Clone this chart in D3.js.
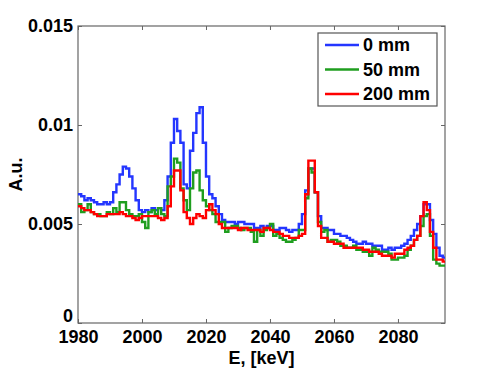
<!DOCTYPE html>
<html lang="en">
<head>
<meta charset="UTF-8">
<title>Spectra</title>
<script src="https://d3js.org/d3.v7.min.js"></script>
<style>
  body { margin: 0; background: #fff; }
  svg text { font-family: "Liberation Sans", Arial, sans-serif; font-weight: bold; fill: #000; }
  .frame { fill: none; stroke: #666; stroke-width: 1.2px; }
</style>
</head>
<body>
<svg id="chart" width="491" height="369"></svg>
<script>
// bins of 1 keV, starting at 1980
let startE = 1980;
let binWidth = 1;
let xTicks = [1980, 2000, 2020, 2040, 2060, 2080];
let yTicks = [0, 0.005, 0.01, 0.015];
let yTickLabels = ["0", "0.005", "0.01", "0.015"];
let seriesNames = ["0 mm", "50 mm", "200 mm"];
let seriesColors = ["#2436ff", "#1f9e1f", "#ff0000"];

let blue = [
  0.0065, 0.0064, 0.0062, 0.0063, 0.0062, 0.0061, 0.0060, 0.0060, 0.0061, 0.0060,
  0.0061, 0.0066, 0.0070, 0.0075, 0.0079, 0.0078, 0.0074, 0.0068, 0.0062, 0.0057,
  0.0056, 0.0057, 0.0056, 0.0058, 0.0057, 0.0058, 0.0057, 0.0062, 0.0074, 0.0091,
  0.0103, 0.0097, 0.0091, 0.0070, 0.0068, 0.0087, 0.0096, 0.0106, 0.0109, 0.0091,
  0.0074, 0.0065, 0.0063, 0.0059, 0.0055, 0.0052, 0.0051, 0.0051, 0.0051, 0.0050,
  0.0051, 0.0051, 0.0050, 0.0050, 0.0050, 0.0048, 0.0048, 0.0049, 0.0048, 0.0049,
  0.0049, 0.0047, 0.0047, 0.0048, 0.0048, 0.0047, 0.0046, 0.0047, 0.0047, 0.0050,
  0.0055, 0.0067, 0.0078, 0.0078, 0.0066, 0.0054, 0.0048, 0.0048, 0.0047, 0.0047,
  0.0045, 0.0045, 0.0044, 0.0044, 0.0043, 0.0042, 0.0041, 0.0040, 0.0040, 0.0041,
  0.0040, 0.0040, 0.0039, 0.0039, 0.0039, 0.0037, 0.0037, 0.0038, 0.0037, 0.0038,
  0.0038, 0.0039, 0.0040, 0.0042, 0.0044, 0.0047, 0.0050, 0.0054, 0.0060, 0.0060,
  0.0052, 0.0045, 0.0038, 0.0034, 0.0033
];
let green = [
  0.0060, 0.0056, 0.0057, 0.0060, 0.0056, 0.0055, 0.0055, 0.0054, 0.0054, 0.0056,
  0.0055, 0.0058, 0.0056, 0.0061, 0.0061, 0.0057, 0.0055, 0.0054, 0.0054, 0.0055,
  0.0051, 0.0048, 0.0056, 0.0057, 0.0055, 0.0058, 0.0055, 0.0054, 0.0069, 0.0074,
  0.0083, 0.0081, 0.0068, 0.0062, 0.0057, 0.0068, 0.0076, 0.0077, 0.0067, 0.0062,
  0.0059, 0.0057, 0.0055, 0.0051, 0.0051, 0.0051, 0.0046, 0.0048, 0.0049, 0.0049,
  0.0048, 0.0047, 0.0048, 0.0048, 0.0046, 0.0041, 0.0047, 0.0044, 0.0047, 0.0048,
  0.0050, 0.0044, 0.0045, 0.0043, 0.0042, 0.0041, 0.0041, 0.0042, 0.0043, 0.0047,
  0.0047, 0.0063, 0.0078, 0.0076, 0.0066, 0.0051, 0.0046, 0.0047, 0.0041, 0.0042,
  0.0042, 0.0041, 0.0039, 0.0039, 0.0038, 0.0038, 0.0039, 0.0037, 0.0037, 0.0036,
  0.0036, 0.0034, 0.0038, 0.0037, 0.0036, 0.0036, 0.0036, 0.0035, 0.0032, 0.0032,
  0.0033, 0.0033, 0.0034, 0.0037, 0.0039, 0.0042, 0.0044, 0.0049, 0.0054, 0.0055,
  0.0044, 0.0032, 0.0030, 0.0029, 0.0029
];
let red = [
  0.0059, 0.0058, 0.0057, 0.0057, 0.0056, 0.0055, 0.0054, 0.0054, 0.0054, 0.0055,
  0.0055, 0.0055, 0.0055, 0.0056, 0.0055, 0.0054, 0.0054, 0.0053, 0.0052, 0.0053,
  0.0054, 0.0054, 0.0054, 0.0054, 0.0054, 0.0053, 0.0052, 0.0053, 0.0059, 0.0069,
  0.0077, 0.0077, 0.0067, 0.0056, 0.0053, 0.0050, 0.0053, 0.0055, 0.0054, 0.0053,
  0.0057, 0.0060, 0.0057, 0.0055, 0.0050, 0.0048, 0.0048, 0.0048, 0.0048, 0.0048,
  0.0047, 0.0048, 0.0048, 0.0047, 0.0047, 0.0047, 0.0047, 0.0046, 0.0048, 0.0048,
  0.0047, 0.0046, 0.0046, 0.0045, 0.0044, 0.0044, 0.0043, 0.0043, 0.0043, 0.0044,
  0.0045, 0.0065, 0.0082, 0.0082, 0.0066, 0.0049, 0.0043, 0.0043, 0.0041, 0.0041,
  0.0040, 0.0040, 0.0040, 0.0038, 0.0038, 0.0038, 0.0038, 0.0038, 0.0038, 0.0037,
  0.0037, 0.0036, 0.0036, 0.0036, 0.0035, 0.0034, 0.0034, 0.0034, 0.0033, 0.0035,
  0.0035, 0.0035, 0.0037, 0.0038, 0.0039, 0.0042, 0.0044, 0.0054, 0.0061, 0.0057,
  0.0046, 0.0038, 0.0032, 0.0032, 0.0031
];

let allSeries = [blue, green, red];

let margin = {left: 78, right: 46, top: 26, bottom: 46};
let width = 491 - margin.left - margin.right;
let height = 369 - margin.top - margin.bottom;
let fontSize = 18;

let svg = d3.select("#chart");
let g = svg.append("g").attr("transform", `translate(${margin.left},${margin.top})`);

let x = d3.scaleLinear().domain([1980, 2094.7]).range([0, width]);
let y = d3.scaleLinear().domain([0, 0.015]).range([height, 0]);

// clip so the steps stay inside the box
g.append("clipPath").attr("id", "clip")
  .append("rect").attr("width", width).attr("height", height);

// axes: ticks pointing inward on all four sides
let tickLen = 4;
let fmt = d => yTickLabels[yTicks.indexOf(d)];

let xAxis = g.append("g").attr("transform", `translate(0,${height})`)
  .call(d3.axisBottom(x).tickValues(xTicks).tickSizeInner(-tickLen).tickSizeOuter(0).tickPadding(9).tickFormat(d3.format("d")));
let xAxisTop = g.append("g")
  .call(d3.axisTop(x).tickValues(xTicks).tickSizeInner(-tickLen).tickSizeOuter(0).tickFormat(""));
let yAxis = g.append("g")
  .call(d3.axisLeft(y).tickValues(yTicks).tickSizeInner(-tickLen).tickSizeOuter(0).tickPadding(5).tickFormat(fmt));
let yAxisRight = g.append("g").attr("transform", `translate(${width},0)`)
  .call(d3.axisRight(y).tickValues(yTicks).tickSizeInner(-tickLen).tickSizeOuter(0).tickFormat(""));

[xAxis, xAxisTop, yAxis, yAxisRight].forEach(a => {
  a.select(".domain").remove();
  a.selectAll(".tick line").attr("stroke", "#666");
  a.selectAll("text").attr("font-size", fontSize).attr("font-family", "Liberation Sans, Arial, sans-serif").attr("font-weight", "bold");
});
xAxis.selectAll("text").attr("dy", "0.6em");
// bottom "0": lifted just enough to clear the 1980 label
yAxis.selectAll(".tick text").filter(d => d === 0).attr("dy", "-0.1em");

g.append("rect").attr("class", "frame").attr("width", width).attr("height", height);

// step lines
let line = d3.line()
  .x(d => x(d[0]))
  .y(d => y(d[1]))
  .curve(d3.curveStepAfter);

let lines = g.append("g").attr("clip-path", "url(#clip)");
allSeries.forEach((vals, i) => {
  let pts = vals.map((v, k) => [startE + k * binWidth, v]);
  pts.push([startE + vals.length * binWidth, vals[vals.length - 1]]);
  lines.append("path")
    .attr("d", line(pts))
    .attr("fill", "none")
    .attr("stroke", seriesColors[i])
    .attr("stroke-width", 2.4)
    .attr("stroke-linejoin", "miter");
});

// axis titles
svg.append("text")
  .attr("x", margin.left + width / 2)
  .attr("y", 364)
  .attr("text-anchor", "middle")
  .attr("font-size", fontSize)
  .text("E, [keV]");

svg.append("text")
  .attr("transform", `translate(22,${margin.top + height / 2}) rotate(-90)`)
  .attr("text-anchor", "middle")
  .attr("font-size", fontSize)
  .text("A.u.");

// legend
let legend = svg.append("g").attr("transform", "translate(318,33)");
legend.append("rect")
  .attr("width", 119).attr("height", 73)
  .attr("fill", "#fff").attr("stroke", "#555").attr("stroke-width", 1.2);
seriesNames.forEach((name, i) => {
  let ry = 12 + i * 24.5;
  legend.append("line")
    .attr("x1", 7).attr("x2", 41)
    .attr("y1", ry).attr("y2", ry)
    .attr("stroke", seriesColors[i]).attr("stroke-width", 2.4);
  legend.append("text")
    .attr("x", 45).attr("y", ry)
    .attr("dy", "0.36em")
    .attr("font-size", fontSize)
    .text(name);
});
</script>
</body>
</html>
